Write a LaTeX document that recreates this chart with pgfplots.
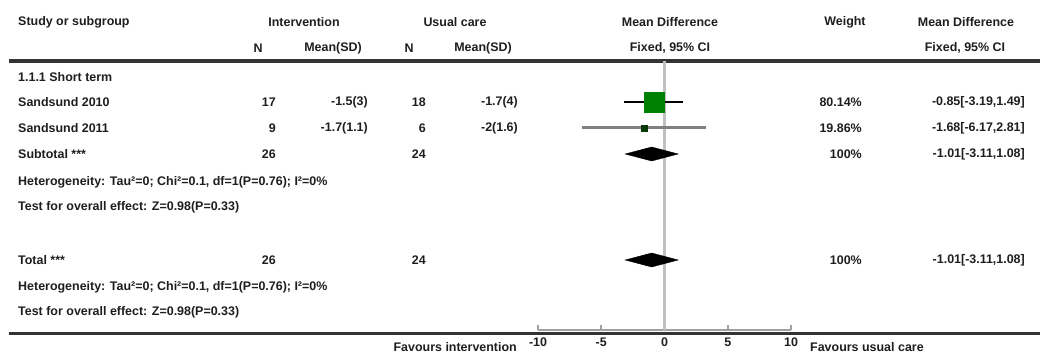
\documentclass[border=0pt]{standalone}
\usepackage{pgfplots}
\pgfplotsset{compat=1.18}
\usepackage{fontspec}
\setmainfont{Liberation Sans}
\definecolor{txt}{HTML}{1E1E1E}
\definecolor{rule}{HTML}{333333}
\definecolor{zeroline}{HTML}{C0C0C0}
\definecolor{axgray}{HTML}{A0A0A0}
\definecolor{sqgreen}{HTML}{008000}
\definecolor{sqdark}{HTML}{063806}
\newcommand{\ff}{\fontsize{12.5}{14}\selectfont\bfseries}
\begin{document}
\begin{tikzpicture}[font=\ff, every node/.append style={text=txt, inner sep=0pt}]
\path[use as bounding box] (0,0) rectangle (1040bp,354bp);
\begin{axis}[at={(0,0)}, anchor=south west, width=1040bp, height=354bp, scale only axis,
  xmin=0, xmax=1040, ymin=0, ymax=354, y dir=reverse, hide axis, clip=false]
% rules
\addplot[line width=3bp, color=rule] coordinates {(9,61) (1040,61)};
\addplot[line width=3bp, color=rule] coordinates {(9,333) (1040,333)};
% header row 1
\node[anchor=west] at (axis cs:18,22) {Study or subgroup};
\node at (axis cs:304,22) {Intervention};
\node at (axis cs:455,22) {Usual care};
\node at (axis cs:670,22) {Mean Difference};
\node at (axis cs:845,22) {Weight};
\node at (axis cs:966,22) {Mean Difference};
% header row 2
\node at (axis cs:258,48) {N};
\node at (axis cs:333,48) {Mean(SD)};
\node at (axis cs:409,48) {N};
\node at (axis cs:483,48) {Mean(SD)};
\node at (axis cs:670,48) {Fixed, 95\% CI};
\node at (axis cs:965,48) {Fixed, 95\% CI};
% subgroup
\node[anchor=west] at (axis cs:18,77) {1.1.1 Short term};
% rows
\node[anchor=west] at (axis cs:18,102) {Sandsund 2010};
\node[anchor=east] at (axis cs:276,102) {17};
\node[anchor=east] at (axis cs:368,102) {-1.5(3)};
\node[anchor=east] at (axis cs:426,102) {18};
\node[anchor=east] at (axis cs:518,102) {-1.7(4)};
\node[anchor=east] at (axis cs:862,102) {80.14\%};
\node[anchor=east] at (axis cs:1025,102) {-0.85[-3.19,1.49]};
\node[anchor=west] at (axis cs:18,128) {Sandsund 2011};
\node[anchor=east] at (axis cs:276,128) {9};
\node[anchor=east] at (axis cs:368,128) {-1.7(1.1)};
\node[anchor=east] at (axis cs:426,128) {6};
\node[anchor=east] at (axis cs:518,128) {-2(1.6)};
\node[anchor=east] at (axis cs:862,128) {19.86\%};
\node[anchor=east] at (axis cs:1025,128) {-1.68[-6.17,2.81]};
\node[anchor=west] at (axis cs:18,154) {Subtotal ***};
\node[anchor=east] at (axis cs:276,154) {26};
\node[anchor=east] at (axis cs:426,154) {24};
\node[anchor=east] at (axis cs:862,154) {100\%};
\node[anchor=east] at (axis cs:1025,154) {-1.01[-3.11,1.08]};
\node[anchor=west] at (axis cs:18,182) {Heterogeneity: Tau²=0; Chi²=0.1, df=1(P=0.76); I²=0\%};
\node[anchor=west] at (axis cs:18,207) {Test for overall effect: Z=0.98(P=0.33)};
\node[anchor=west] at (axis cs:18,260) {Total ***};
\node[anchor=east] at (axis cs:276,260) {26};
\node[anchor=east] at (axis cs:426,260) {24};
\node[anchor=east] at (axis cs:862,260) {100\%};
\node[anchor=east] at (axis cs:1025,260) {-1.01[-3.11,1.08]};
\node[anchor=west] at (axis cs:18,287) {Heterogeneity: Tau²=0; Chi²=0.1, df=1(P=0.76); I²=0\%};
\node[anchor=west] at (axis cs:18,312) {Test for overall effect: Z=0.98(P=0.33)};
% footer
\node[anchor=east] at (axis cs:517,347) {Favours intervention};
\node[anchor=west] at (axis cs:810,347) {Favours usual care};
\end{axis}
\begin{axis}[at={(538bp,24bp)}, anchor=south west, width=253bp, height=269bp, scale only axis,
  xmin=-10, xmax=10, ymin=-330, ymax=-61, clip=false,
  axis x line*=bottom, axis y line=none,
  axis line style={draw=axgray, line width=2.2bp},
  xtick={-10,-5,0,5,10}, xticklabels={-10,-5,0,5,10},
  tick align=inside, major tick length=5bp,
  tick style={draw=axgray, line width=1.6bp},
  xticklabel style={font=\ff, text=txt, inner sep=0pt, yshift=-8bp}]
\addplot[zeroline, line width=3bp] coordinates {(0,-61) (0,-330)};
% Sandsund 2010
\addplot[black, line width=2.2bp] coordinates {(-3.19,-102) (1.49,-102)};
\addplot[only marks, mark=square*, mark size=10bp, mark options={fill=sqgreen, draw=sqgreen}] coordinates {(-0.85,-102)};
% Sandsund 2011
\addplot[gray, line width=3bp] coordinates {(-6.5,-128) (3.3,-128)};
\addplot[only marks, mark=square*, mark size=3bp, mark options={fill=sqdark, draw=sqdark}] coordinates {(-1.6,-128)};
% Subtotal diamond
\addplot[fill=black, draw=black] coordinates {(-3.11,-154) (-1.01,-147) (1.08,-154) (-1.01,-161)} -- cycle;
% Total diamond
\addplot[fill=black, draw=black] coordinates {(-3.11,-260) (-1.01,-253) (1.08,-260) (-1.01,-267)} -- cycle;
\end{axis}
\end{tikzpicture}
\end{document}
